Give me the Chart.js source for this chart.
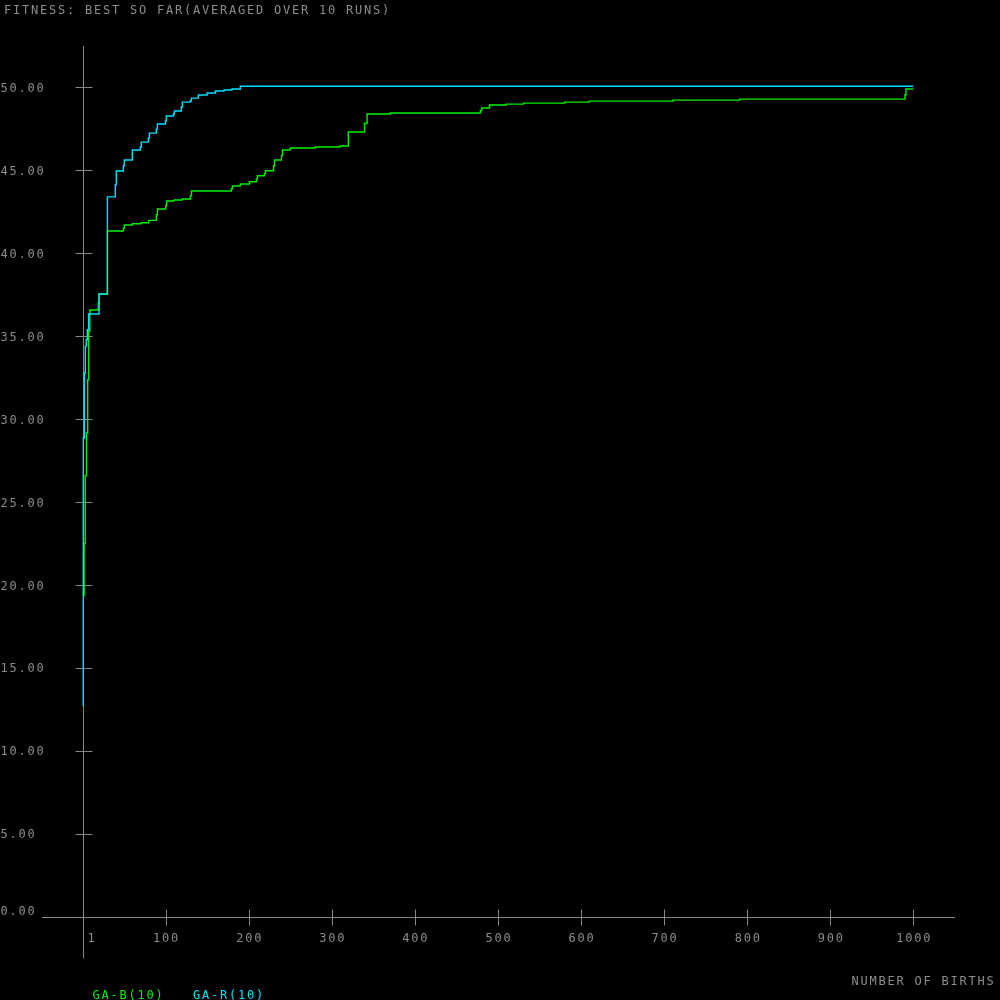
<!DOCTYPE html>
<html>
<head>
<meta charset="utf-8">
<script src="https://cdn.jsdelivr.net/npm/chart.js@4.4.1/dist/chart.umd.min.js"></script>
<style>
html,body{margin:0;padding:0;background:#000;}
canvas{display:block;}
</style>
</head>
<body>
<canvas id="c" width="1000" height="1000"></canvas>
<script>
// ---- data ----
const titleText = "FITNESS: BEST SO FAR(AVERAGED OVER 10 RUNS)";
const xAxisTitle = "NUMBER OF BIRTHS";
const seriesNames = ["GA-B(10)", "GA-R(10)"];

// GA-R (cyan): births at which the best-so-far changed, and the new value
const gaR_x = [1, 1, 2.2, 3.4, 4.6, 5.8, 7.5, 20, 30, 39.5, 40.7, 49.2, 50.4, 60, 69.6, 70.8, 79.3, 80.5, 88.9, 90.1, 99.8, 101, 109.4, 110.6, 119, 120.2, 129.9, 131.1, 139.5, 150, 160, 170.5, 180, 190, 1000];
const gaR_y = [12.7, 28.87, 32.78, 34.39, 34.79, 35.39, 36.34, 37.54, 43.40, 44.12, 44.96, 45.27, 45.62, 46.22, 46.40, 46.70, 46.94, 47.24, 47.48, 47.79, 47.98, 48.27, 48.39, 48.57, 48.81, 49.11, 49.19, 49.35, 49.54, 49.66, 49.78, 49.84, 49.90, 50.06, 50.06];

// GA-B (green)
const gaB_x = [1, 2, 3.3, 4.8, 6.3, 7.5, 8.8, 19, 20, 30, 49.2, 50.4, 60, 70.5, 79.7, 89, 90.2, 100.2, 101.4, 110.2, 119.9, 130, 131.2, 179.3, 180.5, 190, 201, 209.4, 210.6, 219, 220.2, 230, 231.2, 239.5, 240.7, 250, 280, 310, 320, 339.5, 342.5, 370.5, 479, 480.5, 490, 510, 530.7, 580.5, 610, 710.6, 791, 990, 991.2, 1000];
const gaB_y = [19.38, 22.50, 26.59, 29.17, 32.38, 35.30, 36.58, 37.00, 37.54, 41.34, 41.50, 41.70, 41.78, 41.84, 41.98, 42.32, 42.67, 42.87, 43.15, 43.21, 43.27, 43.47, 43.75, 43.89, 44.05, 44.17, 44.31, 44.48, 44.67, 44.80, 44.97, 45.27, 45.62, 45.90, 46.22, 46.34, 46.40, 46.46, 47.31, 47.82, 48.39, 48.45, 48.60, 48.75, 48.93, 48.99, 49.05, 49.11, 49.17, 49.23, 49.29, 49.55, 49.90, 49.90];

const yTickValues = [0, 5, 10, 15, 20, 25, 30, 35, 40, 45, 50];
const xTickValues = [1, 100, 200, 300, 400, 500, 600, 700, 800, 900, 1000];
const xTickLabels = ["1", "100", "200", "300", "400", "500", "600", "700", "800", "900", "1000"];

// ---- styles ----
const COL_B = "#00f000";
const COL_R = "#00e0ff";
const COL_AXIS = "#858585";
const COL_TEXT = "#8c8c8c";
const FONT = '12px "DejaVu Sans Mono", "Liberation Mono", monospace';
const PITCH = 9;

function toPoints(xs, ys) { return xs.map((x, i) => ({x: x, y: ys[i]})); }

function monoText(ctx, str, x, yc, color) {
  ctx.save();
  ctx.font = FONT;
  ctx.fillStyle = color;
  ctx.textAlign = "left";
  ctx.textBaseline = "alphabetic";
  for (let i = 0; i < str.length; i++) {
    ctx.fillText(str[i], x + i * PITCH, yc + 4.4);
  }
  ctx.restore();
}
function monoWidth(str) { return str.length * PITCH - 2; }

const axesPlugin = {
  id: "oldAxes",
  beforeDatasetsDraw(chart) {
    const ctx = chart.ctx;
    const xs = chart.scales.x, ys = chart.scales.y;
    const area = chart.chartArea;
    const ax = Math.round(xs.getPixelForValue(1)) + 0.5;
    const ay = Math.round(ys.getPixelForValue(0)) + 0.5;
    ctx.save();
    ctx.strokeStyle = COL_AXIS;
    ctx.lineWidth = 1;
    ctx.beginPath();
    ctx.moveTo(area.left, ay); ctx.lineTo(area.right, ay);
    ctx.moveTo(ax, area.top); ctx.lineTo(ax, ay + 41);
    yTickValues.forEach(v => {
      if (v === 0) return;
      const p = Math.round(ys.getPixelForValue(v)) + 0.5;
      ctx.moveTo(ax - 8, p); ctx.lineTo(ax + 9, p);
    });
    xTickValues.forEach(v => {
      if (v === 1) return;
      const p = Math.round(xs.getPixelForValue(v)) + 0.5;
      ctx.moveTo(p, ay - 8); ctx.lineTo(p, ay + 8);
    });
    ctx.stroke();
    ctx.restore();

    yTickValues.forEach(v => {
      let p = ys.getPixelForValue(v);
      if (v === 0) p = ay - 7;
      monoText(ctx, v.toFixed(2), 0.5, p, COL_TEXT);
    });
    xTickValues.forEach((v, i) => {
      const lab = xTickLabels[i];
      const p = xs.getPixelForValue(v);
      let left = p - monoWidth(lab) / 2;
      if (left < ax + 4) left = ax + 4;
      monoText(ctx, lab, left, ay + 20.5, COL_TEXT);
    });
    monoText(ctx, titleText, 4, 9.5, COL_TEXT);
    monoText(ctx, xAxisTitle, 851.5, 981, COL_TEXT);
    monoText(ctx, seriesNames[0], 92.5, 995, COL_B);
    monoText(ctx, seriesNames[1], 193, 995, COL_R);
  }
};

new Chart(document.getElementById("c"), {
  type: "line",
  data: {
    datasets: [
      {
        label: seriesNames[1],
        data: toPoints(gaR_x, gaR_y),
        borderColor: COL_R,
        borderWidth: 1.4,
        pointRadius: 0,
        stepped: "before",
        fill: false,
        order: 0
      },
      {
        label: seriesNames[0],
        data: toPoints(gaB_x, gaB_y),
        borderColor: COL_B,
        borderWidth: 1.4,
        pointRadius: 0,
        stepped: "before",
        fill: false,
        order: 1
      }
    ]
  },
  options: {
    responsive: false,
    animation: false,
    devicePixelRatio: 1,
    layout: { padding: { left: 42, right: 45, top: 46, bottom: 83 } },
    plugins: { legend: { display: false }, tooltip: { enabled: false } },
    scales: {
      x: { type: "linear", min: -48.71, max: 1050.19, display: false },
      y: { type: "linear", min: 0, max: 52.49, display: false }
    }
  },
  plugins: [axesPlugin]
});
</script>
</body>
</html>
